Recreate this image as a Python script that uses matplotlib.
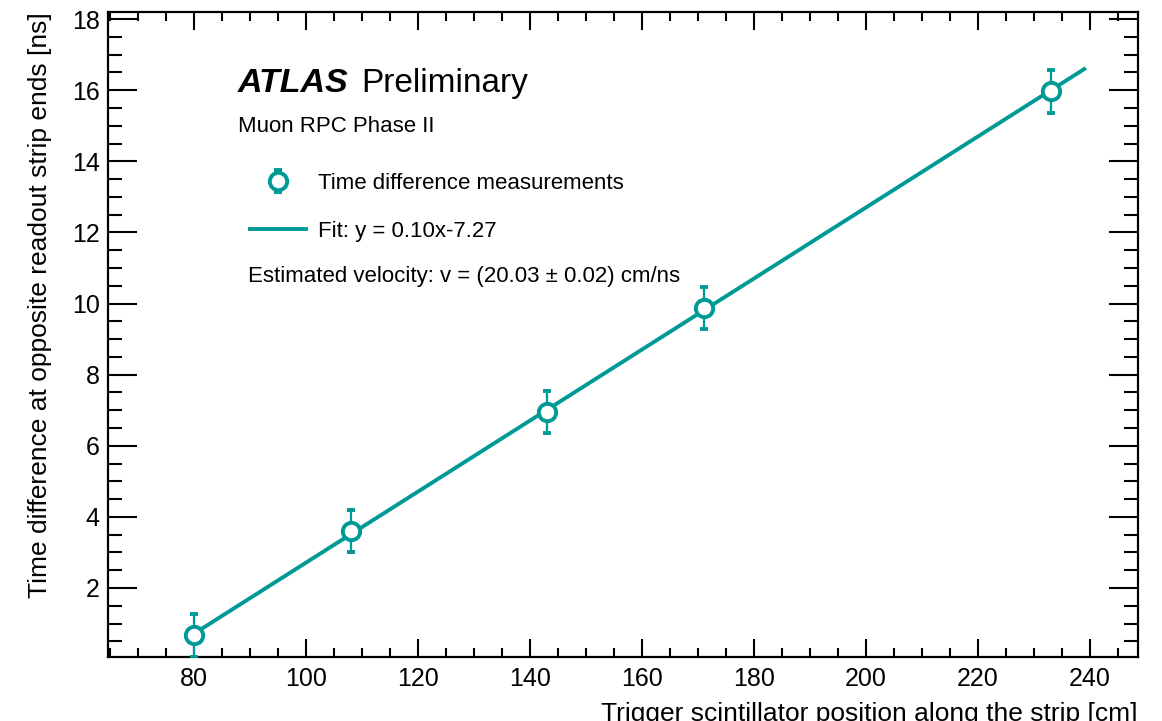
import numpy as np
import matplotlib.pyplot as plt
from matplotlib.ticker import MultipleLocator
from matplotlib.transforms import offset_copy

position_cm = [80, 108, 143, 171, 233]
time_diff_ns = [0.67, 3.60, 6.95, 9.87, 15.97]
time_err_ns = [0.6, 0.6, 0.6, 0.6, 0.6]

# fit parameters (slope = 2 / v)
fit_slope = 2 / 20.03
fit_intercept = -7.27
fit_range = [80, 239]

teal = "#009a96"

plt.rcParams['font.family'] = ['Liberation Sans', 'DejaVu Sans']

fig = plt.figure(figsize=(11.62, 7.21), dpi=100)
ax = fig.add_axes([0.0929, 0.0888, 0.8864, 0.8946])

fit_x = np.array(fit_range)
line, = ax.plot(fit_x, fit_slope * fit_x + fit_intercept, color=teal, lw=2.8,
                zorder=2, label="Fit: y = 0.10x-7.27")
pts = ax.errorbar(position_cm, time_diff_ns, yerr=time_err_ns, fmt="o", color=teal,
                  mfc="white", mec=teal, ms=12.5, mew=2.8, elinewidth=1.6,
                  capsize=3, capthick=1.6, zorder=3,
                  label="Time difference measurements")

ax.set_xlim(64.6, 248.6)
ax.set_ylim(0.06, 18.2)

ax.xaxis.set_major_locator(MultipleLocator(20))
ax.xaxis.set_minor_locator(MultipleLocator(5))
ax.yaxis.set_minor_locator(MultipleLocator(0.5))
ax.set_yticks([2, 4, 6, 8, 10, 12, 14, 16, 18])

ax.tick_params(which="both", direction="in", top=True, right=True, width=1.5,
               labelsize=18)
ax.tick_params(axis="x", which="major", length=13, pad=7)
ax.tick_params(axis="x", which="minor", length=6.5)
ax.tick_params(axis="y", which="major", length=21, pad=6)
ax.tick_params(axis="y", which="minor", length=10)
for sp in ax.spines.values():
    sp.set_linewidth(1.6)

ax.set_xlabel("Trigger scintillator position along the strip [cm]", fontsize=19,
              loc="right", labelpad=8)
ax.set_ylabel("Time difference at opposite readout strip ends [ns]", fontsize=19,
              loc="top", labelpad=14)

atlas = fig.text(238 / 1162, 1 - 92 / 721, "ATLAS", fontsize=24.5, fontweight="bold",
                 style="italic", va="baseline")
fig.canvas.draw()
w = atlas.get_window_extent().width
fig.text(238 / 1162, 1 - 92 / 721, "Preliminary", fontsize=24, va="baseline",
         transform=offset_copy(fig.transFigure, fig=fig, x=(w + 13) * 72 / fig.dpi,
                               units="points"))
fig.text(238 / 1162, 1 - 132 / 721, "Muon RPC Phase II", fontsize=16, va="baseline")
fig.text(248 / 1162, 1 - 276 / 721, "Estimated velocity: v = (20.03 ± 0.02) cm/ns",
         fontsize=16, va="center")

ax.legend(handles=[pts, line], loc="upper left", frameon=False, fontsize=16,
          bbox_to_anchor=(250 / 1162, 1 - 173 / 721), bbox_transform=fig.transFigure,
          handlelength=2.5, handletextpad=0.54, labelspacing=1.2, borderpad=0,
          borderaxespad=0)

fig.savefig("out.png", dpi=100)
